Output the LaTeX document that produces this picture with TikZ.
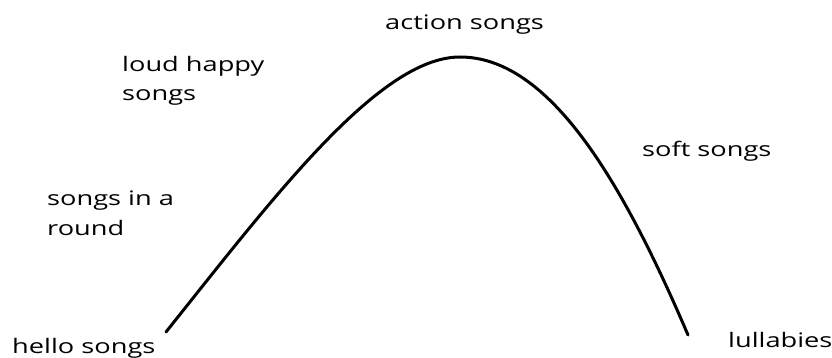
\documentclass[tikz,border=0pt]{standalone}
\usepackage{fontspec}
\setmainfont{Open Sans}
\newcommand{\wide}[1]{\scalebox{1.36}[1]{#1}}
\begin{document}
\begin{tikzpicture}[x=1pt,y=-1pt,
  lbl/.style={anchor=base west,inner sep=0pt,font=\fontsize{20}{28}\selectfont},
  curve/.style={line width=3pt,line cap=round}]
\useasboundingbox (0,0) rectangle (832,358);
\node[lbl] (action) at (385,30) {\wide{action songs}};
\node[lbl] (loudA) at (122,72) {\wide{loud happy}};
\node[lbl] (loudB) at (122,101) {\wide{songs}};
\node[lbl] (soft) at (642,157) {\wide{soft songs}};
\node[lbl] (roundA) at (47,205) {\wide{songs in a}};
\node[lbl] (roundB) at (47,235) {\wide{round}};
\node[lbl] (hello) at (12,353) {\wide{hello songs}};
\node[lbl] (lull) at (728,347) {\wide{lullabies}};
\coordinate (s) at (166,332);
\coordinate (p) at (460,57);
\coordinate (e) at (688,335);
\draw[curve] (s) .. controls (276,194) and (380,57) .. (p)
  .. controls (550,57) and (623,183) .. (e);
\end{tikzpicture}
\end{document}
